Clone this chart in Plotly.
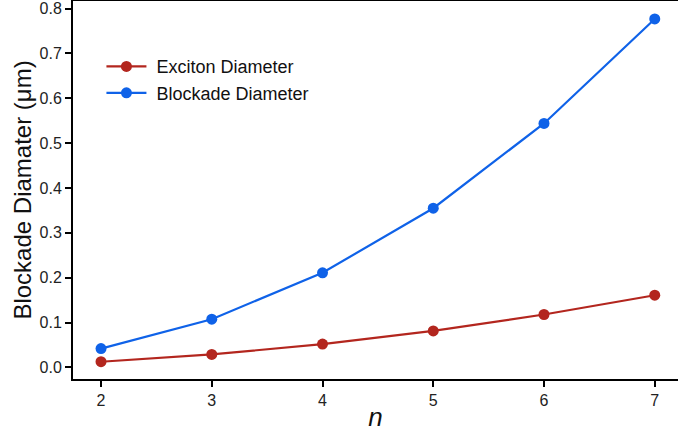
import plotly.graph_objects as go

n_values = [2, 3, 4, 5, 6, 7]
exciton_diameter = [0.0127, 0.029, 0.052, 0.0815, 0.118, 0.161]
blockade_diameter = [0.042, 0.1075, 0.211, 0.355, 0.544, 0.777]
y_ticks = [0.0, 0.1, 0.2, 0.3, 0.4, 0.5, 0.6, 0.7, 0.8]
x_ticks = [2, 3, 4, 5, 6, 7]
series_names = ["Exciton Diameter", "Blockade Diameter"]

RED = "#B3261E"
BLUE = "#0F62E8"

fig = go.Figure()
fig.add_trace(go.Scatter(x=n_values, y=exciton_diameter, mode="lines+markers",
                         name="\u00a0" + series_names[0],
                         line=dict(color=RED, width=2.2),
                         marker=dict(color=RED, size=11)))
fig.add_trace(go.Scatter(x=n_values, y=blockade_diameter, mode="lines+markers",
                         name="\u00a0" + series_names[1],
                         line=dict(color=BLUE, width=2.2),
                         marker=dict(color=BLUE, size=11)))

fig.update_layout(
    width=678, height=432,
    margin=dict(l=73, r=0, t=1, b=53, autoexpand=False),
    plot_bgcolor="white", paper_bgcolor="white",
    font=dict(family="Liberation Sans, Arial, sans-serif", color="#111"),
    legend=dict(x=0.047, y=0.875, xanchor="left", yanchor="top",
                font=dict(size=18, color="#111"), bgcolor="rgba(0,0,0,0)",
                itemwidth=40, tracegroupgap=0),
    xaxis=dict(range=[1.747, 7.21], tickvals=x_ticks, automargin=False,
               showgrid=False, zeroline=False,
               showline=True, linecolor="black", linewidth=2, mirror=True,
               ticks="outside", ticklen=6, tickwidth=1.5, tickcolor="black",
               tickfont=dict(size=16, color="#222"),
               title=dict(text="<i>n</i>", font=dict(size=26, color="#111"), standoff=7)),
    yaxis=dict(range=[-0.0258, 0.817], tickvals=y_ticks, automargin=False,
               tickformat=".1f",
               showgrid=False, zeroline=False,
               showline=True, linecolor="black", linewidth=2,
               ticks="outside", ticklen=6, tickwidth=1.5, tickcolor="black",
               tickfont=dict(size=16, color="#222"),
               title=dict(text="Blockade Diamater (μm)", font=dict(size=24, color="#111"), standoff=1)),
    showlegend=True,
)

fig.write_html("out.html", config={"displayModeBar": False},
               post_script="document.body.style.margin='0';document.body.style.overflow='hidden';")
